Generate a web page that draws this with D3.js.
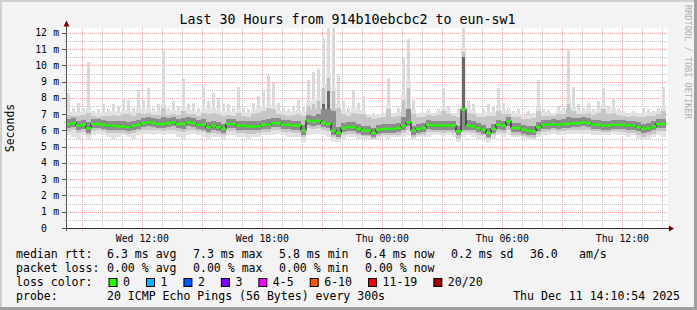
<!DOCTYPE html>
<html><head><meta charset="utf-8">
<script src="https://cdn.jsdelivr.net/npm/d3@7"></script>
<style>body{margin:0;background:#f3f3f3}svg{display:block}</style>
</head><body><svg id="c" width="697" height="310"></svg>
<script>
const title = "Last 30 Hours from 914b10ebcbc2 to eun-sw1";
const startTime = new Date(2025, 11, 10, 8, 10, 54);
const endTime = new Date(2025, 11, 11, 14, 10, 54);
const binMinutes = 15;

// median rtt per 15-minute bin (ms)
const median = [6.4,6.45,6.3,6.35,6.15,6.4,6.4,6.35,6.3,6.3, 6.25,6.25,6.2,6.3,6.35,6.45,6.5,6.45,6.4,6.4, 6.45,6.5,6.4,6.4,6.5,6.45,6.35,6.35,6.2,6.3,
 6.2,6.1,6.4,6.4,6.3,6.3,6.25,6.25,6.25,6.35, 6.35,6.45,6.45,6.35,6.35,6.3,6.3,6.0,6.6,6.55, 6.6,6.45,6.4,6.0,5.85,6.15,6.2,6.2,6.1,6.0,
 6.0,5.85,6.05,6.1,6.1,6.1,6.15,6.3,6.5,6.0, 6.1,6.15,6.35,6.3,6.3,6.3,6.3,6.3,5.95,7.3, 6.3,6.25,6.15,6.05,5.85,6.1,6.35,6.3,6.55,6.15,
 6.15,6.05,6.0,5.95,6.2,6.35,6.35,6.4,6.35,6.4, 6.4,6.45,6.45,6.5,6.45,6.35,6.35,6.3,6.3,6.35, 6.35,6.35,6.3,6.3,6.2,6.1,6.15,6.25,6.4,6.4];
// smoke: lowest ping
const smokeMin = [5.7,5.6,5.5,5.7,5.5,5.7,5.8,5.7,5.6,5.5, 5.6,5.7,5.6,5.5,5.7,5.8,5.8,5.7,5.8,5.7, 5.8,5.8,5.6,5.5,5.7,5.8,5.7,5.6,5.5,5.6,
 5.6,5.5,5.7,5.7,5.6,5.6,5.5,5.6,5.6,5.7, 5.7,5.7,5.8,5.7,5.6,5.6,5.6,5.3,5.7,5.8, 5.8,5.7,5.6,5.3,5.3,5.5,5.6,5.6,5.5,5.5,
 5.5,5.4,5.5,5.6,5.5,5.6,5.6,5.6,5.7,5.5, 5.6,5.6,5.6,5.7,5.7,5.6,5.7,5.6,5.3,5.6, 5.7,5.6,5.5,5.5,5.3,5.5,5.7,5.6,5.7,5.6,
 5.6,5.5,5.4,5.4,5.6,5.7,5.7,5.8,5.7,5.7, 5.8,5.8,5.8,5.8,5.8,5.7,5.7,5.7,5.7,5.8, 5.7,5.7,5.6,5.7,5.5,5.4,5.5,5.6,5.7,5.6];
// smoke: lower edge of the middle band
const smokeLo = [5.95,6.0,5.85,5.9,5.75,5.95,6.0,5.95,5.85,5.85, 5.85,5.85,5.8,5.85,5.95,6.05,6.05,6.0,6.0,5.95, 6.05,6.05,5.95,5.9,6.05,6.05,5.95,5.9,5.8,5.85,
 5.8,5.7,5.95,5.95,5.85,5.85,5.8,5.8,5.85,5.9, 5.9,6.0,6.0,5.9,5.9,5.85,5.85,5.6,6.15,6.1, 6.15,6.0,5.95,5.6,5.5,5.75,5.8,5.8,5.7,5.65,
 5.65,5.5,5.65,5.7,5.7,5.7,5.75,5.85,6.0,5.6, 5.7,5.75,5.9,5.9,5.9,5.85,5.9,5.85,5.5,5.9, 5.9,5.85,5.75,5.7,5.45,5.7,5.9,5.85,6.05,5.75,
 5.75,5.65,5.6,5.55,5.8,5.9,5.95,6.0,5.95,5.95, 6.0,6.0,6.05,6.05,6.0,5.95,5.95,5.9,5.9,5.95, 5.95,5.9,5.85,5.85,5.75,5.6,5.7,5.8,5.95,5.95];
// smoke: lower edge of the dark core
const coreLo = [6.15,6.2,6.0,6.1,5.85,6.15,6.15,6.1,6.05,6.0, 6.0,6.0,5.95,6.05,6.1,6.2,6.25,6.2,6.15,6.15, 6.2,6.25,6.15,6.1,6.25,6.2,6.1,6.05,5.9,6.05,
 5.95,5.85,6.15,6.15,6.05,6.05,6.0,6.0,6.0,6.1, 6.1,6.2,6.2,6.1,6.1,6.05,6.05,5.75,6.35,6.3, 6.35,6.2,6.15,5.75,5.6,5.9,5.95,5.95,5.85,5.75,
 5.75,5.6,5.8,5.85,5.85,5.85,5.9,6.05,6.25,5.75, 5.85,5.9,6.1,6.05,6.05,6.05,6.05,6.05,5.7,6.05, 6.05,6.0,5.9,5.8,5.6,5.85,6.1,6.05,6.3,5.9,
 5.9,5.8,5.75,5.7,5.95,6.1,6.1,6.15,6.1,6.15, 6.15,6.2,6.2,6.25,6.2,6.1,6.1,6.05,6.05,6.1, 6.1,6.1,6.05,6.05,5.95,5.85,5.9,6.0,6.15,6.15];
// smoke: upper edge of the dark core
const coreHi = [6.7,6.75,6.6,6.65,6.5,6.7,6.7,6.65,6.6,6.6, 6.55,6.6,6.5,6.6,6.65,6.75,6.8,6.75,6.7,6.8, 6.75,6.8,6.7,6.75,6.8,6.75,6.65,6.7,6.5,6.6,
 6.5,6.4,6.7,6.7,6.6,6.6,6.55,6.55,6.6,6.65, 6.7,6.75,6.75,6.65,6.65,6.6,6.6,6.35,6.95,6.9, 7.0,7.6,8.4,7.2,6.2,6.45,6.5,6.5,6.4,6.3,
 6.3,6.15,6.35,6.4,6.4,6.4,6.45,6.8,7.3,6.3, 6.4,6.45,6.65,6.6,6.6,6.6,6.6,6.6,6.3,10.5, 6.65,6.55,6.45,6.35,6.15,6.4,6.65,6.6,6.85,6.45,
 6.45,6.35,6.3,6.25,6.5,6.65,6.65,6.7,6.65,6.7, 6.8,6.75,6.75,6.8,6.75,6.65,6.65,6.6,6.6,6.65, 6.65,6.65,6.6,6.6,6.5,6.4,6.45,6.55,6.7,6.7];
// smoke: upper edge of the middle band
const smokeHi = [6.95,6.9,6.9,6.95,7.1,6.9,6.85,6.9,6.9,6.95, 6.9,7.0,7.0,6.9,7.1,7.0,7.1,6.95,6.95,7.4, 6.95,7.0,6.95,7.2,7.0,7.0,6.9,7.1,7.0,7.1,
 7.0,6.9,6.95,6.9,7.1,6.9,6.85,7.0,7.1,7.2, 7.4,7.3,7.0,6.95,6.9,6.95,7.0,6.9,7.5,7.6, 7.8,8.6,9.2,8.4,7.4,7.0,6.9,7.1,7.0,7.0,
 6.8,6.7,6.75,6.8,7.3,6.8,6.9,7.9,8.6,7.0, 6.8,6.85,6.95,6.9,6.95,7.2,7.0,6.9,6.8,10.8, 7.1,7.0,6.8,6.85,6.9,6.9,7.2,7.0,7.0,6.85,
 6.8,6.7,6.7,6.75,7.2,6.9,6.9,6.9,7.0,7.0, 7.6,7.2,7.0,7.0,7.1,6.95,7.1,7.3,7.0,7.1, 6.95,6.9,6.85,6.9,6.8,6.85,6.9,6.9,7.0,7.2];
// smoke: highest ping
const smokeMax = [8.3,7.4,7.7,7.4,10.2,7.2,7.3,7.6,7.3,7.6, 7.5,8.0,7.9,7.4,8.5,7.8,8.6,7.4,7.6,10.9, 7.4,7.8,7.5,9.2,7.6,7.7,7.4,8.7,7.8,8.3,
 8.0,7.7,7.6,7.4,8.7,7.4,7.3,7.7,8.1,8.4, 9.4,8.9,7.7,7.4,7.3,7.5,7.9,7.5,9.1,9.6, 9.8,11.7,12.3,12.3,9.4,7.8,7.4,8.5,7.7,8.1,
 7.0,7.1,7.0,7.1,9.2,7.1,7.4,10.5,11.6,7.9, 7.1,7.1,7.3,7.1,7.3,8.6,7.5,7.1,7.4,12.3, 7.8,7.6,7.1,7.3,7.6,7.5,8.6,7.7,7.4,7.2,
 7.3,6.95,7.2,7.1,9.1,7.3,7.25,7.1,7.5,7.4, 11.0,8.7,7.6,7.4,7.7,7.3,7.8,8.6,7.5,8.0, 7.3,7.2,7.1,7.2,7.1,7.4,7.3,7.2,7.4,8.7];

const yMajorTicks = [0,1,2,3,4,5,6,7,8,9,10,11,12];
const yTickLabels = ["0","1 m","2 m","3 m","4 m","5 m","6 m","7 m","8 m","9 m","10 m","11 m","12 m"];
const xLabelFormat = "%a %H:%M";

const lossLabels = ["0","1","2","3","4-5","6-10","11-19","20/20"];
const lossColors = ["#26ff00","#00b8ff","#0059ff","#7e00ff","#ff00ff","#ff5500","#ff0000","#a10000"];

const rttRow = ["median rtt:", "6.3 ms avg", "7.3 ms max", "5.8 ms min", "6.4 ms now", "0.2 ms sd", "36.0", "am/s"];
const lossRow = ["packet loss:", "0.00 % avg", "0.00 % max", "0.00 % min", "0.00 % now"];
const probeText = ["probe:", "20 ICMP Echo Pings (56 Bytes) every 300s"];
const dateText = "Thu Dec 11 14:10:54 2025";
const watermark = "RRDTOOL / TOBI OETIKER";

// ---------- drawing ----------
const W = 697, H = 310;
const mono = "'DejaVu Sans Mono', monospace";
const svg = d3.select("#c");

svg.append("rect").attr("width", W).attr("height", H).attr("fill", "#f3f3f3");
svg.append("path").attr("d", `M0,0H${W}V2H2V${H}H0Z`).attr("fill", "#cfcfcf");
svg.append("path").attr("d", `M${W},${H}H0V${H-3}H${W-3}V0H${W}Z`).attr("fill", "#9e9e9e");

const pL = 66, pR = 666, pT = 28, pB = 228;
const x = d3.scaleTime().domain([startTime, endTime]).range([pL, pR]);
const y = d3.scaleLinear().domain([0, 12.3]).range([pB, pT]);

svg.append("rect").attr("x", pL).attr("y", pT).attr("width", pR + 2 - pL).attr("height", pB - pT).attr("fill", "#fff");

const gGrid = svg.append("g").attr("shape-rendering", "crispEdges");
const minorCol = "rgba(144,144,144,0.55)", majorCol = "rgba(224,80,80,0.55)";
d3.range(0.5, 12.3, 1).forEach(v => {
  gGrid.append("line").attr("x1", pL - 2).attr("x2", pR + 2).attr("y1", Math.round(y(v)) + 0.5).attr("y2", Math.round(y(v)) + 0.5)
    .attr("stroke", minorCol).attr("stroke-dasharray", "1,1");
});
yMajorTicks.slice(1).forEach(v => {
  gGrid.append("line").attr("x1", pL - 2).attr("x2", pR + 2).attr("y1", Math.round(y(v)) + 0.5).attr("y2", Math.round(y(v)) + 0.5)
    .attr("stroke", majorCol).attr("stroke-dasharray", "1,1");
});
const hours = d3.timeHour.range(d3.timeHour.ceil(startTime), endTime);
hours.forEach(t => {
  const major = t.getHours() % 3 === 0;
  const xx = Math.round(x(t)) + 0.5;
  gGrid.append("line").attr("x1", xx).attr("x2", xx).attr("y1", pT).attr("y2", pB + (major ? 3 : 2))
    .attr("stroke", major ? majorCol : minorCol).attr("stroke-dasharray", "1,1");
});

// smoke
const bins = median.map((m, i) => ({
  t0: d3.timeMinute.offset(startTime, i * binMinutes),
  t1: d3.timeMinute.offset(startTime, (i + 1) * binMinutes),
  med: m, mn: smokeMin[i], lo: smokeLo[i], cl: coreLo[i], ch: coreHi[i], hi: smokeHi[i], mx: smokeMax[i]
}));
const gS = svg.append("g").attr("shape-rendering", "crispEdges");
const capV = 7.3; // above this level the smoke is drawn as a thin spike
function band(lowF, highF, col, narrow) {
  gS.selectAll(null).data(bins).enter().append("rect")
    .attr("x", d => narrow ? (x(d.t0) + x(d.t1)) / 2 - 1.5 : x(d.t0))
    .attr("width", d => narrow ? 3 : x(d.t1) - x(d.t0))
    .attr("y", d => y(highF(d))).attr("height", d => Math.max(0, y(lowF(d)) - y(highF(d))))
    .attr("fill", col);
}
band(d => d.hi, d => d.mx, "#dadada", true);
band(d => d.mn, d => Math.min(d.mx, d.hi + 0.25), "#e2e2e2", false);
band(d => Math.min(d.hi, capV), d => d.hi, "#c2c2c2", true);
band(d => d.lo, d => Math.min(d.hi, capV), "#c6c6c6", false);
band(d => Math.min(d.ch, capV), d => d.ch, "#6a6a6a", true);
band(d => d.cl, d => Math.min(d.ch, capV), "#8c8c8c", false);

// median: dark step line + loss-coloured bars
const pts = bins.map(d => [d.t0, d.med]).concat([[endTime, median[median.length - 1]]]);
svg.append("path").attr("d", d3.line().x(d => x(d[0])).y(d => y(d[1])).curve(d3.curveStepAfter)(pts))
  .attr("fill", "none").attr("stroke", "#202020").attr("stroke-width", 1.2);
svg.append("g").selectAll("rect").data(bins).enter().append("rect")
  .attr("x", d => x(d.t0)).attr("width", d => x(d.t1) - x(d.t0))
  .attr("y", d => y(d.med) - 1.2).attr("height", 2.4).attr("fill", lossColors[0]);

// axes
const axisCol = "#2c2c2c", arrowCol = "#7f0000";
svg.append("line").attr("x1", pL - 3).attr("x2", pR + 3).attr("y1", pB + 0.5).attr("y2", pB + 0.5).attr("stroke", axisCol);
svg.append("line").attr("x1", pL + 0.5).attr("x2", pL + 0.5).attr("y1", pB + 3).attr("y2", pT - 4).attr("stroke", "#555");
svg.append("path").attr("d", `M${pL + 0.5},20.5L${pL - 2.5},26.5L${pL + 3.5},26.5Z`).attr("fill", arrowCol);
svg.append("path").attr("d", `M${pR + 8},${pB + 0.5}L${pR + 3},${pB - 2.5}L${pR + 3},${pB + 3.5}Z`).attr("fill", arrowCol);

// y labels
const gY = svg.append("g").attr("font-family", mono).attr("font-size", "9.8px").attr("fill", "#000");
yMajorTicks.forEach((v, i) => {
  const parts = yTickLabels[i].split(" ");
  gY.append("text").attr("x", 47).attr("y", y(v) + 3.5).attr("text-anchor", "end").text(parts[0]);
  if (parts[1]) gY.append("text").attr("x", 53.2).attr("y", y(v) + 3.5).text(parts[1]);
  gY.append("line").attr("x1", pL - 4).attr("x2", pL).attr("y1", Math.round(y(v)) + 0.5).attr("y2", Math.round(y(v)) + 0.5).attr("stroke", "#555");
});
// x labels
const fmt = d3.timeFormat(xLabelFormat);
const gX = svg.append("g").attr("font-family", mono).attr("font-size", "9.8px").attr("fill", "#000");
d3.timeHour.every(6).range(startTime, endTime).forEach(t => {
  gX.append("text").attr("x", x(t)).attr("y", 241.5).attr("text-anchor", "middle").text(fmt(t));
});

// title, y label, watermark
svg.append("text").attr("x", 347.5).attr("y", 24).attr("text-anchor", "middle").attr("font-family", mono).attr("font-size", "13.3px").text(title);
svg.append("text").attr("transform", "translate(14,128) rotate(-90)").attr("text-anchor", "middle").attr("font-family", mono).attr("font-size", "11.5px").text("Seconds");
svg.append("text").attr("transform", "translate(685,5) rotate(90)").attr("font-family", mono).attr("font-size", "8.6px").attr("fill", "#b0b0b0").text(watermark);

// legend
const gL = svg.append("g").attr("font-family", mono).attr("font-size", "11.55px").attr("fill", "#000");
const colX = [16, 107, 193, 279, 365, 451, 530, 579];
rttRow.forEach((s, i) => gL.append("text").attr("x", colX[i]).attr("y", 258).text(s));
lossRow.forEach((s, i) => gL.append("text").attr("x", colX[i]).attr("y", 272).text(s));
gL.append("text").attr("x", 16).attr("y", 286).text("loss color:");
let lx = 108.5;
lossLabels.forEach((lab, i) => {
  gL.append("rect").attr("x", lx + 0.5).attr("y", 278.5).attr("width", 8).attr("height", 8).attr("fill", lossColors[i]).attr("stroke", "#000");
  gL.append("text").attr("x", lx + 14.5).attr("y", 286).text(lab);
  lx += 14.5 + lab.length * 6.96 + 16;
});
gL.append("text").attr("x", 16).attr("y", 300).text(probeText[0]);
gL.append("text").attr("x", 107).attr("y", 300).text(probeText[1]);
gL.append("text").attr("x", 680).attr("y", 300).attr("text-anchor", "end").text(dateText);
</script>
</body></html>
